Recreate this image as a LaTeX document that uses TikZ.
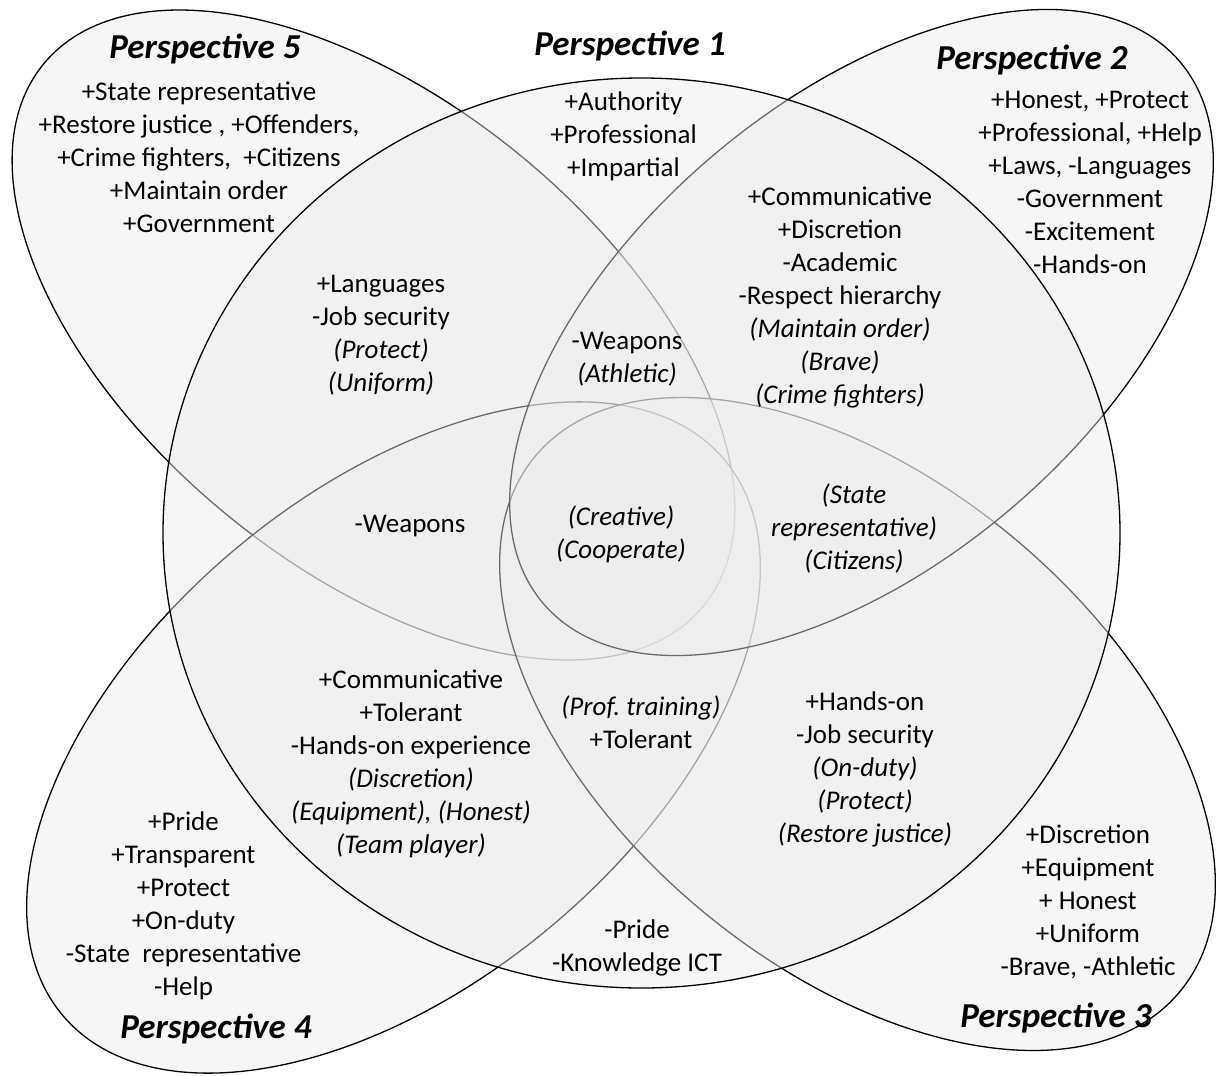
\documentclass[tikz,border=0pt]{standalone}
\usepackage{fontspec}
\setmainfont{Carlito}
\frenchspacing
\begin{document}
\begin{tikzpicture}[x=1pt,y=-1pt,
  venn/.style={draw=black, line width=1.3pt, fill=black!7, fill opacity=0.45},
  body/.style={font=\fontsize{27}{33}\selectfont, align=center, inner sep=0pt, anchor=north},
  ptitle/.style={font=\fontsize{35}{42}\selectfont\bfseries\itshape, inner sep=0pt}]
\useasboundingbox (0,0) rectangle (1216,1076);
\fill[white] (0,0) rectangle (1216,1076);
% ellipses, drawn in layer order
\draw[venn, rotate around={-39.4:(373.5,335)}] (373.5,335) ellipse [x radius=427, y radius=232];
\draw[venn, rotate around={40:(393.5,737.5)}] (393.5,737.5) ellipse [x radius=432, y radius=246];
\draw[venn, rotate around={-39.7:(857.5,724)}] (857.5,724) ellipse [x radius=419, y radius=243];
\draw[venn, rotate around={40.4:(861.5,332.5)}] (861.5,332.5) ellipse [x radius=418, y radius=231];
\draw[venn] (641.5,533) ellipse [x radius=478.5, y radius=455];
% titles
\node[ptitle] (t5) at (205,49) {Perspective 5};
\node[ptitle] (t1) at (630,46) {Perspective 1};
\node[ptitle] (t2) at (1032,60) {Perspective 2};
\node[ptitle] (t4) at (216,1029) {Perspective 4};
\node[ptitle] (t3) at (1056,1018) {Perspective 3};
% texts
\node[body] (b5) at (199,77) {\strut +State representative\\\strut +Restore justice , +Offenders,\\\strut +Crime fighters,~ +Citizens\\\strut +Maintain order\\\strut +Government};
\node[body] (b1) at (623.5,87) {\strut +Authority\\\strut +Professional\\\strut +Impartial};
\node[body] (b2) at (1090,85.5) {\strut +Honest, +Protect\\\strut +Professional, +Help\\\strut +Laws, -Languages\\\strut -Government\\\strut -Excitement\\\strut -Hands-on};
\node[body] (b12) at (840,182) {\strut +Communicative\\\strut +Discretion\\\strut -Academic\\\strut -Respect hierarchy\\\strut \textit{(Maintain order)}\\\strut \textit{(Brave)}\\\strut \textit{(Crime fighters)}};
\node[body] (b51) at (381,269) {\strut +Languages\\\strut -Job security\\\strut \textit{(Protect)}\\\strut \textit{(Uniform)}};
\node[body] (bw) at (627,326) {\strut -Weapons\\\strut \textit{(Athletic)}};
\node[body] (bwl) at (410,509) {\strut -Weapons};
\node[body] (bc) at (621,502) {\strut \textit{(Creative)}\\\strut \textit{(Cooperate)}};
\node[body] (br) at (854,480) {\strut \textit{(State}\\\strut \textit{representative)}\\\strut \textit{(Citizens)}};
\node[body] (b41) at (411,665) {\strut +Communicative\\\strut +Tolerant\\\strut -Hands-on experience\\\strut \textit{(Discretion)}\\\strut \textit{(Equipment), (Honest)}\\\strut \textit{(Team player)}};
\node[body] (bpt) at (641,692) {\strut \textit{(Prof. training)}\\\strut +Tolerant};
\node[body] (b31) at (865,687) {\strut +Hands-on\\\strut -Job security\\\strut \textit{(On-duty)}\\\strut \textit{(Protect)}\\\strut \textit{(Restore justice)}};
\node[body] (b4) at (183.5,807) {\strut +Pride\\\strut +Transparent\\\strut +Protect\\\strut +On-duty\\\strut -State~ representative\\\strut -Help};
\node[body] (bp) at (637,915) {\strut -Pride\\\strut -Knowledge ICT};
\node[body] (b3) at (1088,820.5) {\strut +Discretion\\\strut +Equipment\\\strut + Honest\\\strut +Uniform\\\strut -Brave, -Athletic};
\end{tikzpicture}
\end{document}
